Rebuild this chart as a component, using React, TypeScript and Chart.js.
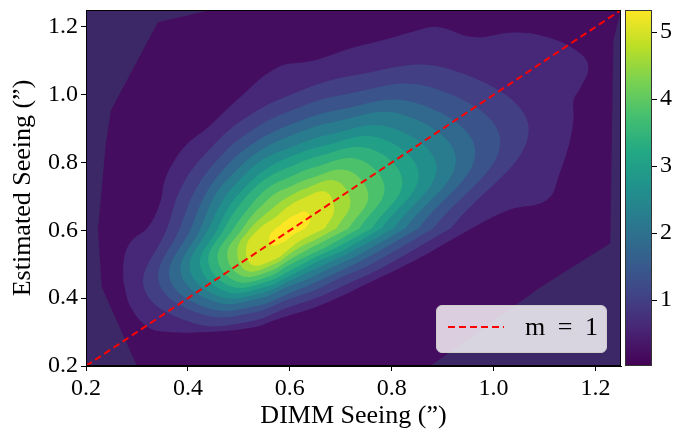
import { useEffect, useRef } from 'react';
import { Chart, registerables } from 'chart.js';

Chart.register(...registerables);

// axes
const AXIS_MIN = 0.2;
const AXIS_MAX = 1.25;
const X_TICKS = [0.2, 0.4, 0.6, 0.8, 1.0, 1.2];
const Y_TICKS = [0.2, 0.4, 0.6, 0.8, 1.0, 1.2];

// colour bar (density)
const DENSITY_MIN = 0.015;
const DENSITY_MAX = 5.33;
const CBAR_TICKS = [1, 2, 3, 4, 5];

// contour levels, one per ring below (outermost first)
const LEVELS = [0.4, 0.8, 1.2, 1.6, 2.0, 2.4, 2.8, 3.2, 3.6, 4.0, 4.4, 4.8, 5.2];
const LEVEL_TOP = 5.6;

// one-to-one reference line y = x
const ONE_TO_ONE = [0.2, 1.25];

// region covered by the density estimate
const HULL = [
  [0.30, 0.2], [0.876, 0.2], [1.092, 0.432], [1.229, 0.562], [1.235, 1.16], [1.25, 1.25],
  [0.445, 1.25], [0.341, 1.214], [0.249, 0.954], [0.239, 0.857], [0.2235, 0.6], [0.231, 0.432],
];

const RING_1 = [
  [0.273, 0.45], [0.275, 0.52], [0.29, 0.57], [0.322, 0.61], [0.345, 0.68], [0.355, 0.75],
  [0.375, 0.81], [0.40, 0.857], [0.44, 0.905], [0.50, 0.99], [0.575, 1.08], [0.645, 1.10],
  [0.72, 1.137], [0.78, 1.16], [0.84, 1.185], [0.89, 1.20], [0.96, 1.17], [1.04, 1.184],
  [1.105, 1.17], [1.17, 1.122], [1.186, 1.08], [1.171, 1.022], [1.157, 0.984], [1.157, 0.934],
  [1.15, 0.866], [1.13, 0.77], [1.105, 0.69], [1.03, 0.66], [0.95, 0.60], [0.857, 0.521],
  [0.745, 0.438], [0.66, 0.379], [0.57, 0.335], [0.53, 0.314], [0.44, 0.30], [0.36, 0.30],
  [0.322, 0.314], [0.288, 0.373],
];
const RING_2 = [
  [0.916, 0.606], [1.069, 0.900], [0.911, 1.077], [0.722, 1.056], [0.598, 0.998], [0.509, 0.928],
  [0.443, 0.840], [0.390, 0.736], [0.359, 0.606], [0.314, 0.429], [0.412, 0.326], [0.522, 0.331],
  [0.598, 0.373], [0.654, 0.402], [0.709, 0.439], [0.783, 0.491],
];
const RING_3 = [
  [0.882, 0.606], [1.013, 0.865], [0.875, 1.023], [0.707, 1.001], [0.598, 0.951], [0.520, 0.890],
  [0.461, 0.813], [0.415, 0.720], [0.384, 0.606], [0.343, 0.447], [0.429, 0.352], [0.530, 0.358],
  [0.598, 0.397], [0.648, 0.423], [0.696, 0.458], [0.763, 0.503],
];
const RING_4 = [
  [0.853, 0.606], [0.964, 0.834], [0.845, 0.977], [0.694, 0.955], [0.598, 0.910], [0.529, 0.857],
  [0.476, 0.790], [0.435, 0.708], [0.406, 0.606], [0.364, 0.460], [0.441, 0.370], [0.535, 0.377],
  [0.598, 0.414], [0.643, 0.442], [0.687, 0.472], [0.745, 0.514],
];
const RING_5 = [
  [0.827, 0.606], [0.926, 0.811], [0.821, 0.942], [0.684, 0.919], [0.598, 0.877], [0.536, 0.830],
  [0.490, 0.769], [0.451, 0.698], [0.425, 0.606], [0.386, 0.474], [0.454, 0.389], [0.541, 0.399],
  [0.598, 0.435], [0.639, 0.459], [0.677, 0.487], [0.730, 0.524],
];
const RING_6 = [
  [0.804, 0.606], [0.888, 0.787], [0.796, 0.904], [0.674, 0.881], [0.598, 0.842], [0.543, 0.805],
  [0.502, 0.750], [0.468, 0.687], [0.441, 0.606], [0.404, 0.485], [0.464, 0.404], [0.545, 0.415],
  [0.598, 0.450], [0.634, 0.475], [0.669, 0.500], [0.716, 0.533],
];
const RING_7 = [
  [0.780, 0.606], [0.853, 0.765], [0.775, 0.873], [0.665, 0.849], [0.598, 0.815], [0.551, 0.778],
  [0.515, 0.731], [0.484, 0.677], [0.459, 0.606], [0.424, 0.498], [0.475, 0.420], [0.550, 0.432],
  [0.598, 0.464], [0.630, 0.489], [0.660, 0.512], [0.703, 0.540],
];
const RING_8 = [
  [0.761, 0.606], [0.821, 0.745], [0.755, 0.842], [0.657, 0.819], [0.598, 0.786], [0.557, 0.756],
  [0.525, 0.717], [0.498, 0.668], [0.472, 0.606], [0.440, 0.508], [0.484, 0.435], [0.554, 0.448],
  [0.598, 0.479], [0.627, 0.502], [0.653, 0.523], [0.690, 0.548],
];
const RING_9 = [
  [0.737, 0.606], [0.786, 0.724], [0.734, 0.810], [0.648, 0.786], [0.598, 0.756], [0.563, 0.731],
  [0.537, 0.698], [0.515, 0.658], [0.490, 0.606], [0.458, 0.519], [0.494, 0.450], [0.559, 0.464],
  [0.598, 0.497], [0.623, 0.516], [0.647, 0.533], [0.678, 0.556],
];
const RING_10 = [
  [0.716, 0.606], [0.754, 0.703], [0.712, 0.777], [0.639, 0.753], [0.598, 0.727], [0.570, 0.707],
  [0.549, 0.679], [0.529, 0.649], [0.508, 0.606], [0.477, 0.530], [0.505, 0.466], [0.563, 0.481],
  [0.598, 0.512], [0.619, 0.530], [0.638, 0.546], [0.663, 0.565],
];
const RING_11 = [
  [0.692, 0.606], [0.719, 0.682], [0.691, 0.746], [0.630, 0.723], [0.598, 0.700], [0.578, 0.680],
  [0.562, 0.660], [0.545, 0.639], [0.523, 0.606], [0.497, 0.543], [0.515, 0.481], [0.569, 0.500],
  [0.598, 0.529], [0.615, 0.546], [0.630, 0.558], [0.651, 0.573],
];
const RING_12 = [
  [0.669, 0.606], [0.687, 0.661], [0.670, 0.714], [0.621, 0.691], [0.598, 0.671], [0.584, 0.655],
  [0.574, 0.641], [0.562, 0.629], [0.541, 0.606], [0.515, 0.554], [0.526, 0.498], [0.573, 0.516],
  [0.598, 0.544], [0.611, 0.560], [0.622, 0.571], [0.636, 0.582],
];
const RING_13 = [
  [0.631, 0.606], [0.640, 0.632], [0.631, 0.656], [0.609, 0.644], [0.598, 0.636], [0.592, 0.628],
  [0.587, 0.623], [0.582, 0.616], [0.573, 0.606], [0.560, 0.582], [0.565, 0.556], [0.587, 0.565],
  [0.598, 0.576], [0.604, 0.584], [0.609, 0.589], [0.616, 0.595],
];

const RINGS = [
  RING_1, RING_2, RING_3, RING_4, RING_5, RING_6, RING_7,
  RING_8, RING_9, RING_10, RING_11, RING_12, RING_13,
];

const FONT = "'Liberation Serif', 'DejaVu Serif', serif";
const OUTSIDE = '#3c2866';

const VIRIDIS = [
  '#440154', '#482475', '#414487', '#355f8d', '#2a788e', '#21918c',
  '#22a884', '#44bf70', '#7ad151', '#bddf26', '#fde725',
];

function hexRgb(h: string) {
  return [1, 3, 5].map((i) => parseInt(h.slice(i, i + 2), 16));
}

function viridis(t: number) {
  const s = Math.min(1, Math.max(0, t)) * (VIRIDIS.length - 1);
  const i = Math.min(Math.floor(s), VIRIDIS.length - 2);
  const f = s - i;
  const a = hexRgb(VIRIDIS[i]);
  const b = hexRgb(VIRIDIS[i + 1]);
  const c = a.map((v, k) => Math.round(v + (b[k] - v) * f));
  return `rgb(${c[0]},${c[1]},${c[2]})`;
}

function bandColor(lo: number, hi: number) {
  return viridis(((lo + hi) / 2 - DENSITY_MIN) / (DENSITY_MAX - DENSITY_MIN));
}

const toPoints = (pts: number[][], close: boolean) => {
  const out = pts.map(([x, y]) => ({ x, y }));
  if (close) out.push({ x: pts[0][0], y: pts[0][1] });
  return out;
};

const framePlugin = {
  id: 'frame',
  beforeDraw(chart: Chart) {
    const { ctx, chartArea: a } = chart;
    ctx.save();
    ctx.fillStyle = OUTSIDE;
    ctx.fillRect(a.left, a.top, a.right - a.left, a.bottom - a.top);
    ctx.restore();
  },
  afterDraw(chart: Chart) {
    const { ctx, chartArea: a } = chart;
    ctx.save();
    ctx.strokeStyle = '#000';
    ctx.lineWidth = 1;
    ctx.strokeRect(Math.round(a.left) + 0.5, Math.round(a.top) + 0.5,
      Math.round(a.right - a.left) - 1, Math.round(a.bottom - a.top) - 1);
    ctx.restore();
  },
};

const gradientPlugin = {
  id: 'cbarGradient',
  beforeDatasetsDraw(chart: Chart) {
    const { ctx, chartArea: a } = chart;
    const y = chart.scales.y;
    const g = ctx.createLinearGradient(0, y.getPixelForValue(DENSITY_MIN), 0, y.getPixelForValue(DENSITY_MAX));
    VIRIDIS.forEach((c, i) => g.addColorStop(i / (VIRIDIS.length - 1), c));
    ctx.save();
    ctx.fillStyle = g;
    ctx.fillRect(a.left, a.top, a.right - a.left, a.bottom - a.top);
    ctx.strokeStyle = '#333';
    ctx.lineWidth = 1;
    ctx.strokeRect(Math.round(a.left) + 0.5, Math.round(a.top) + 0.5,
      Math.round(a.right - a.left) - 1, Math.round(a.bottom - a.top) - 1);
    ctx.restore();
  },
};

export default function App() {
  const mainRef = useRef<HTMLCanvasElement>(null);
  const barRef = useRef<HTMLCanvasElement>(null);

  useEffect(() => {
    if (!mainRef.current || !barRef.current) return;

    const hullSet = {
      data: toPoints(HULL, true),
      showLine: true,
      fill: 'shape',
      backgroundColor: bandColor(0, LEVELS[0]),
      borderColor: 'transparent',
      borderWidth: 0,
      pointRadius: 0,
      tension: 0,
      order: 200,
    };

    const ringSets = RINGS.map((ring, k) => ({
      data: toPoints(ring, true),
      showLine: true,
      fill: 'shape',
      backgroundColor: bandColor(LEVELS[k], LEVELS[k + 1] ?? LEVEL_TOP),
      borderColor: 'transparent',
      borderWidth: 0,
      pointRadius: 0,
      tension: 0.4,
      order: 100 - k,
    }));

    const lineSet = {
      label: 'm = 1',
      data: ONE_TO_ONE.map((v) => ({ x: v, y: v })),
      showLine: true,
      fill: false,
      borderColor: '#ff0000',
      borderWidth: 2,
      borderDash: [7, 4],
      pointRadius: 0,
      order: 0,
    };

    const tickFont = { family: FONT, size: 24 };
    const titleFont = { family: FONT, size: 26 };

    const main = new Chart(mainRef.current, {
      type: 'scatter',
      data: { datasets: [hullSet, ...ringSets, lineSet] as any },
      options: {
        animation: false,
        responsive: true,
        maintainAspectRatio: false,
        events: [],
        layout: { padding: { top: 10, right: 1, left: 0, bottom: 0 } },
        plugins: { legend: { display: false }, tooltip: { enabled: false } },
        scales: {
          x: {
            type: 'linear',
            min: AXIS_MIN,
            max: AXIS_MAX,
            afterBuildTicks: (s: any) => { s.ticks = X_TICKS.map((v) => ({ value: v })); },
            afterFit: (s: any) => { s.height = 78; s.paddingLeft = 0; s.paddingRight = 0; },
            ticks: { color: '#000', font: tickFont, padding: 3, maxRotation: 0, autoSkip: false,
              callback: (v: any) => Number(v).toFixed(1) },
            grid: { drawOnChartArea: false, tickLength: 5, color: '#000' },
            border: { display: true, color: '#000', width: 1 },
            title: { display: true, text: 'DIMM Seeing (\u201d)', color: '#000', font: titleFont,
              padding: { top: 0, bottom: 12 } },
          },
          y: {
            type: 'linear',
            min: AXIS_MIN,
            max: AXIS_MAX,
            afterBuildTicks: (s: any) => { s.ticks = Y_TICKS.map((v) => ({ value: v })); },
            afterFit: (s: any) => { s.width = 86; s.paddingTop = 0; s.paddingBottom = 0; },
            ticks: { color: '#000', font: tickFont, padding: 3, autoSkip: false,
              callback: (v: any) => Number(v).toFixed(1) },
            grid: { drawOnChartArea: false, tickLength: 5, color: '#000' },
            border: { display: true, color: '#000', width: 1 },
            title: { display: true, text: 'Estimated Seeing (\u201d)', color: '#000', font: titleFont,
              padding: { top: 8, bottom: 0 } },
          },
        },
      },
      plugins: [framePlugin],
    });

    const bar = new Chart(barRef.current, {
      type: 'scatter',
      data: { datasets: [] },
      options: {
        animation: false,
        responsive: true,
        maintainAspectRatio: false,
        events: [],
        layout: { padding: { top: 10, right: 0, left: 3, bottom: 78 } },
        plugins: { legend: { display: false }, tooltip: { enabled: false } },
        scales: {
          x: { display: false, min: 0, max: 1 },
          y: {
            type: 'linear',
            position: 'right',
            min: DENSITY_MIN,
            max: DENSITY_MAX,
            afterBuildTicks: (s: any) => { s.ticks = CBAR_TICKS.map((v) => ({ value: v })); },
            afterFit: (s: any) => { s.width = 33; s.paddingTop = 0; s.paddingBottom = 0; },
            ticks: { color: '#000', font: tickFont, padding: 3, autoSkip: false,
              callback: (v: any) => String(v) },
            grid: { drawOnChartArea: false, tickLength: 5, color: '#000' },
            border: { display: false },
          },
        },
      },
      plugins: [gradientPlugin],
    });

    return () => {
      main.destroy();
      bar.destroy();
    };
  }, []);

  return (
    <div style={{ position: 'fixed', left: 0, top: 0, width: 685, height: 444, background: '#fff' }}>
      <div style={{ position: 'absolute', left: 0, top: 0, width: 622, height: 444 }}>
        <canvas ref={mainRef} />
      </div>
      <div style={{ position: 'absolute', left: 622, top: 0, width: 63, height: 444 }}>
        <canvas ref={barRef} />
      </div>
      <div
        style={{
          position: 'absolute', left: 436, top: 305, width: 171, height: 48, boxSizing: 'border-box',
          background: 'rgba(255,255,255,0.8)', border: '1px solid #cccccc', borderRadius: 6,
          fontFamily: FONT, fontSize: 26, color: '#000',
        }}
      >
        <svg width={60} height={46} style={{ position: 'absolute', left: 9, top: 0 }}>
          <line x1={2} y1={21} x2={58} y2={21} stroke="#ff0000" strokeWidth={2} strokeDasharray="7 4" />
        </svg>
        <span style={{ position: 'absolute', left: 88, top: 6, lineHeight: '30px', wordSpacing: 6 }}>m = 1</span>
      </div>
    </div>
  );
}
